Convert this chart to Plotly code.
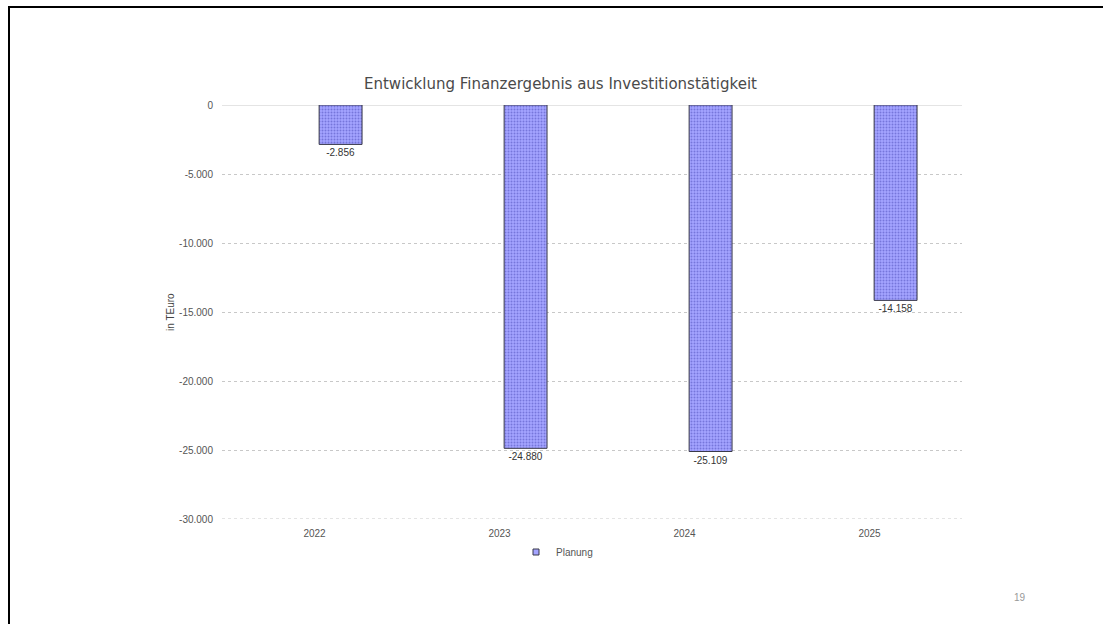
import plotly.graph_objects as go

# Finanzergebnis aus Investitionstätigkeit (in TEuro)
jahre = ["2022", "2023", "2024", "2025"]
planung = [-2856, -24880, -25109, -14158]
wert_labels = ["-2.856", "-24.880", "-25.109", "-14.158"]
y_ticks = [0, -5000, -10000, -15000, -20000, -25000, -30000]
y_tick_labels = ["0", "-5.000", "-10.000", "-15.000", "-20.000", "-25.000", "-30.000"]
y_min = -30000

FONT = "Liberation Sans, Arial, sans-serif"
BAR_FILL = "#a4a4ff"
BAR_DOTS = "#4848b8"
GRID = "#c8c8c8"

# plot area in pixels (for placing page decorations)
W, H = 1103, 624
L, R, T, B = 222, 962, 105, 519


def px_x(x):
    return (x - L) / (R - L)


def px_y(y):
    return (B - y) / (B - T)


fig = go.Figure()
fig.add_trace(go.Bar(
    x=jahre,
    y=planung,
    name="Planung",
    showlegend=False,
    width=0.232,
    offset=0.025,
    text=wert_labels,
    textposition="outside",
    textfont=dict(family=FONT, size=10, color="#333333"),
    cliponaxis=False,
    marker=dict(
        color="#9a9af8",
        line=dict(color="#3a3a4a", width=1),
        pattern=dict(shape=".", fgcolor=BAR_DOTS, bgcolor=BAR_FILL,
                     size=3, solidity=0.35),
    ),
))
# legend entry with a small square key
fig.add_trace(go.Scatter(
    x=[None], y=[None],
    mode="markers",
    name="Planung",
    marker=dict(symbol="square", size=6, color=BAR_FILL,
                line=dict(color="#3a3a4a", width=1)),
))

fig.update_layout(
    width=W,
    height=H,
    margin=dict(l=L, r=W - R, t=T, b=H - B),
    paper_bgcolor="white",
    plot_bgcolor="white",
    font=dict(family=FONT, size=10, color="#555555"),
    showlegend=True,
    legend=dict(
        orientation="h",
        x=px_x(516), y=px_y(552),
        xanchor="left", yanchor="middle",
        font=dict(family=FONT, size=10, color="#555555"),
        itemwidth=30,
        bgcolor="rgba(0,0,0,0)",
    ),
    xaxis=dict(
        type="category",
        showgrid=False,
        showline=False,
        ticks="",
        ticklabelstandoff=7,
        tickfont=dict(family=FONT, size=10, color="#555555"),
    ),
    yaxis=dict(
        range=[y_min, 0],
        tickvals=y_ticks,
        ticktext=y_tick_labels,
        showgrid=True,
        gridcolor=GRID,
        griddash="dot",
        gridwidth=1,
        zeroline=True,
        zerolinecolor="#e4e4e4",
        zerolinewidth=1,
        showline=False,
        ticks="",
        ticklabelstandoff=8,
        tickfont=dict(family=FONT, size=10, color="#555555"),
    ),
    annotations=[
        dict(
            text="Entwicklung Finanzergebnis aus Investitionstätigkeit",
            x=px_x(560), y=px_y(84), xref="paper", yref="paper",
            xanchor="center", yanchor="middle", showarrow=False,
            font=dict(family="DejaVu Sans, sans-serif", size=15, color="#4a4a4a"),
        ),
        dict(
            text="in TEuro",
            x=px_x(170), y=px_y(312), xref="paper", yref="paper",
            xanchor="center", yanchor="middle", showarrow=False,
            textangle=-90,
            font=dict(family=FONT, size=10, color="#444444"),
        ),
        dict(
            text="19",
            x=px_x(1020), y=px_y(597), xref="paper", yref="paper",
            xanchor="center", yanchor="middle", showarrow=False,
            font=dict(family=FONT, size=10, color="#999999"),
        ),
    ],
    shapes=[
        # bottom gridline at the lower end of the value range
        dict(type="line", xref="paper", yref="y",
             x0=0, x1=1, y0=y_min, y1=y_min, layer="below",
             line=dict(color=GRID, width=1, dash="dot")),
        # page frame: top and left edge
        dict(type="line", xref="paper", yref="paper",
             x0=px_x(8), x1=px_x(1103), y0=px_y(7), y1=px_y(7),
             line=dict(color="black", width=2)),
        dict(type="line", xref="paper", yref="paper",
             x0=px_x(9), x1=px_x(9), y0=px_y(6), y1=px_y(624),
             line=dict(color="black", width=2)),
    ],
)

fig.write_html("out.html")
